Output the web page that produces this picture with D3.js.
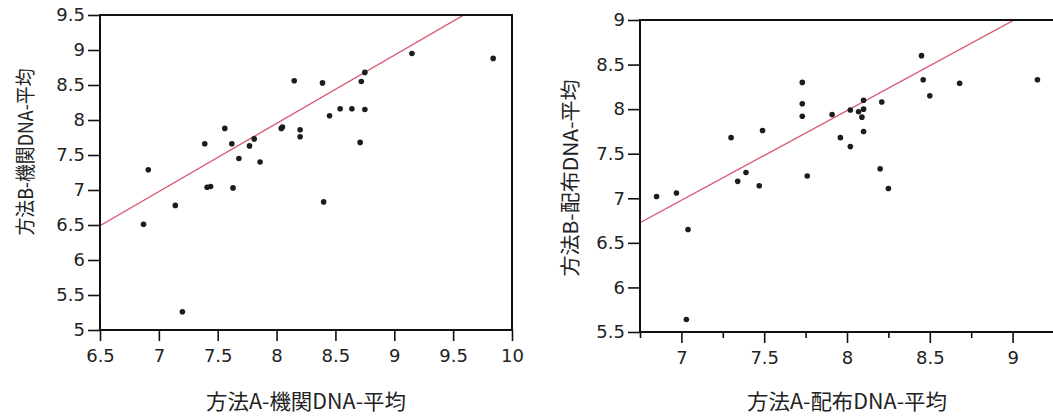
<!DOCTYPE html>
<meta charset="utf-8">
<title>方法A / 方法B DNA 平均</title>
<style>
    body {
        margin: 0;
        background: #fff;
    }

    .frame {
        fill: none;
        stroke: #111;
        stroke-width: 2px;
    }

    .axis path {
        display: none;
    }

    .axis line {
        stroke: #111;
        stroke-width: 1.6px;
    }

    .axis text {
        font-family: "DejaVu Sans", sans-serif;
        font-size: 18px;
        fill: #222;
    }

    .title {
        font-family: "Noto Sans CJK JP", sans-serif;
        fill: #222;
    }

    .fit {
        fill: none;
        stroke: #d8566f;
        stroke-width: 1.3px;
    }

    .dot {
        fill: #1c1c1c;
    }
</style>

<body>
    <svg id="chart"></svg>
</body>

<script src="https://d3js.org/d3.v7.min.js"></script>
<script>
    // left panel: 機関DNA
    var leftX = [6.91, 6.87, 7.14, 7.20, 7.39, 7.41, 7.44, 7.56, 7.62, 7.63, 7.68, 7.77, 7.81, 7.86, 8.04,
        8.05, 8.15, 8.20, 8.20, 8.39, 8.45, 8.54, 8.64, 8.75, 8.72, 8.75, 8.71, 8.40, 9.15, 9.84];
    var leftY = [7.29, 6.51, 6.78, 5.26, 7.66, 7.04, 7.05, 7.88, 7.66, 7.03, 7.45, 7.63, 7.73, 7.40, 7.88,
        7.90, 8.56, 7.86, 7.76, 8.53, 8.06, 8.16, 8.16, 8.15, 8.55, 8.68, 7.68, 6.83, 8.95, 8.88];
    var leftXTicks = [6.5, 7, 7.5, 8, 8.5, 9, 9.5, 10];
    var leftYTicks = [5, 5.5, 6, 6.5, 7, 7.5, 8, 8.5, 9, 9.5];
    var leftFit = [0.159, 0.974]; // intercept, slope

    // right panel: 配布DNA
    var rightX = [6.85, 6.97, 7.04, 7.03, 7.30, 7.34, 7.39, 7.47, 7.49, 7.73, 7.73, 7.73, 7.76, 7.91, 7.96,
        8.02, 8.02, 8.07, 8.10, 8.10, 8.09, 8.10, 8.21, 8.20, 8.25, 8.45, 8.46, 8.50, 8.68, 9.15];
    var rightY = [7.02, 7.06, 6.65, 5.64, 7.68, 7.19, 7.29, 7.14, 7.76, 8.30, 8.06, 7.92, 7.25, 7.94, 7.68,
        7.58, 7.99, 7.97, 8.10, 8.00, 7.91, 7.75, 8.08, 7.33, 7.11, 8.60, 8.33, 8.15, 8.29, 8.33];
    var rightXTicks = [7, 7.5, 8, 8.5, 9];
    var rightXMinor = [6.75, 7.25, 7.75, 8.25, 8.75, 9.25];
    var rightYTicks = [5.5, 6, 6.5, 7, 7.5, 8, 8.5, 9];
    var rightFit = [-0.072, 1.007];

    var W = 1053, H = 419;
    var svg = d3.select("#chart").attr("width", W).attr("height", H);

    function panel(cfg) {
        var g = svg.append("g");
        var x = d3.scaleLinear().domain(cfg.xDomain).range([cfg.left, cfg.right]);
        var y = d3.scaleLinear().domain(cfg.yDomain).range([cfg.bottom, cfg.top]);

        var clipId = "clip" + cfg.id;
        svg.append("clipPath").attr("id", clipId)
            .append("rect")
            .attr("x", cfg.left).attr("y", cfg.top)
            .attr("width", cfg.right - cfg.left).attr("height", cfg.bottom - cfg.top);

        g.append("g")
            .attr("class", "axis")
            .attr("transform", "translate(0," + cfg.bottom + ")")
            .call(d3.axisBottom(x).tickValues(cfg.xTicks).tickSize(11).tickPadding(8).tickFormat(d => d));

        if (cfg.xMinor) {
            g.append("g")
                .attr("class", "axis")
                .attr("transform", "translate(0," + cfg.bottom + ")")
                .call(d3.axisBottom(x).tickValues(cfg.xMinor).tickSize(6).tickFormat(""));
        }

        g.append("g")
            .attr("class", "axis")
            .attr("transform", "translate(" + cfg.left + ",0)")
            .call(d3.axisLeft(y).tickValues(cfg.yTicks).tickSize(12).tickPadding(3).tickFormat(d => d));

        // fitted line, clipped to the plot box
        var xs = x.domain();
        g.append("path")
            .attr("class", "fit")
            .attr("clip-path", "url(#" + clipId + ")")
            .datum(xs.map(v => [v, cfg.fit[0] + cfg.fit[1] * v]))
            .attr("d", d3.line().x(d => x(d[0])).y(d => y(d[1])));

        g.append("g")
            .selectAll("circle")
            .data(cfg.xs.map((v, i) => [v, cfg.ys[i]]))
            .join("circle")
            .attr("class", "dot")
            .attr("cx", d => x(d[0]))
            .attr("cy", d => y(d[1]))
            .attr("r", 2.8);

        g.append("rect")
            .attr("class", "frame")
            .attr("x", cfg.left).attr("y", cfg.top)
            .attr("width", cfg.right - cfg.left).attr("height", cfg.bottom - cfg.top);

        g.append("text")
            .attr("class", "title")
            .attr("x", (cfg.left + cfg.right) / 2)
            .attr("y", 409)
            .attr("text-anchor", "middle")
            .attr("font-size", 21)
            .attr("textLength", 200)
            .attr("lengthAdjust", "spacingAndGlyphs")
            .text(cfg.xTitle);

        g.append("text")
            .attr("class", "title")
            .attr("transform", "translate(" + cfg.yTitleX + "," + cfg.yTitleY + ") rotate(-90)")
            .attr("text-anchor", "middle")
            .attr("font-size", cfg.yTitleSize)
            .attr("textLength", cfg.yTitleLen)
            .attr("lengthAdjust", "spacingAndGlyphs")
            .text(cfg.yTitle);
    }

    panel({
        id: "L",
        xs: leftX, ys: leftY,
        xDomain: [6.5, 10], yDomain: [5, 9.5],
        left: 100, right: 512, top: 15, bottom: 330,
        xTicks: leftXTicks, yTicks: leftYTicks,
        fit: leftFit,
        xTitle: "方法A-機関DNA-平均",
        yTitle: "方法B-機関DNA-平均",
        yTitleX: 33, yTitleY: 152, yTitleSize: 20, yTitleLen: 167
    });

    panel({
        id: "R",
        xs: rightX, ys: rightY,
        xDomain: [6.75, 9.25], yDomain: [5.5, 9],
        left: 640, right: 1054, top: 20, bottom: 332,
        xTicks: rightXTicks, xMinor: rightXMinor, yTicks: rightYTicks,
        fit: rightFit,
        xTitle: "方法A-配布DNA-平均",
        yTitle: "方法B-配布DNA-平均",
        yTitleX: 578, yTitleY: 178, yTitleSize: 20, yTitleLen: 197
    });
</script>
